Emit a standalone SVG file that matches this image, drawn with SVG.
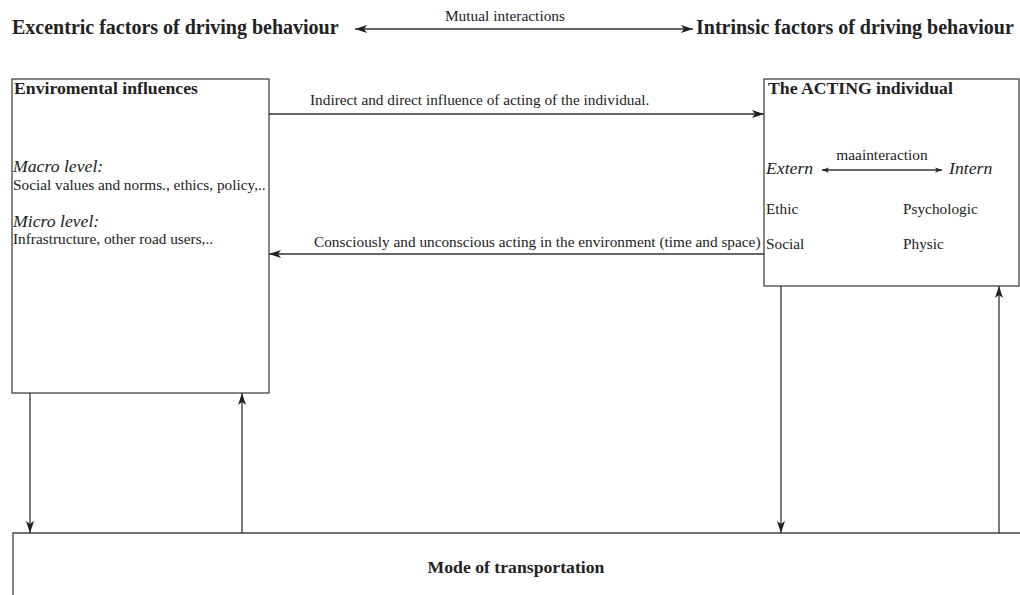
<svg xmlns="http://www.w3.org/2000/svg" width="1020" height="595" viewBox="0 0 1020 595">
<defs>
<marker id="ah" viewBox="0 0 12 8" refX="12" refY="4" markerWidth="12" markerHeight="8" markerUnits="userSpaceOnUse" orient="auto-start-reverse">
<path d="M0,0 L12,4 L0,8 L3,4 Z" fill="#222"/>
</marker>
<marker id="ahs" viewBox="0 0 8 6" refX="8" refY="3" markerWidth="7" markerHeight="6" markerUnits="userSpaceOnUse" orient="auto-start-reverse">
<path d="M0,0 L8,3 L0,6 L2,3 Z" fill="#222"/>
</marker>
</defs>
<style>
text{font-family:"Liberation Serif","Times New Roman",serif;fill:#222}
.t{font-size:20px;font-weight:bold}
.h{font-size:17.7px;font-weight:bold}
.s{font-size:15.3px}
.i{font-size:17.7px;font-style:italic}
.m{font-size:15.4px}
.box{fill:#fff;stroke:#444;stroke-width:1.3}
.ln{stroke:#333;stroke-width:1.3;fill:none}
</style>
<rect width="1020" height="595" fill="#fff"/>
<g id="titles">
<text class="t" x="12" y="34">Excentric factors of driving behaviour</text>
<text class="t" x="696" y="34">Intrinsic factors of driving behaviour</text>
<text class="m" x="505" y="21" text-anchor="middle">Mutual interactions</text>
</g>
<g id="env">
<rect class="box" x="12" y="79" width="257" height="314"/>
<text class="h" x="14" y="94">Enviromental influences</text>
<text class="i" x="13" y="172">Macro level:</text>
<text class="s" x="13" y="190">Social values and norms., ethics, policy,..</text>
<text class="i" x="13" y="227">Micro level:</text>
<text class="s" x="13" y="244">Infrastructure, other road users,..</text>
</g>
<g id="individual">
<rect class="box" x="764" y="79" width="255" height="207"/>
<text class="h" x="768" y="94">The ACTING individual</text>
<text class="m" x="882" y="160" text-anchor="middle">maainteraction</text>
<text class="i" x="766" y="174">Extern</text>
<text class="i" x="949" y="174">Intern</text>
<line class="ln" x1="822" y1="170" x2="942" y2="170" marker-start="url(#ahs)" marker-end="url(#ahs)"/>
<text class="s" x="766" y="214">Ethic</text>
<text class="s" x="903" y="214">Psychologic</text>
<text class="s" x="766" y="249">Social</text>
<text class="s" x="903" y="249">Physic</text>
</g>
<g id="transport">
<path class="box" d="M13,600 L13,533 L1025,533"/>
<text class="h" x="516" y="573" text-anchor="middle">Mode of transportation</text>
</g>
<g id="connectors">
<line class="ln" x1="355" y1="29" x2="693" y2="29" marker-start="url(#ah)" marker-end="url(#ah)"/>
<line class="ln" x1="269" y1="114" x2="764" y2="114" marker-end="url(#ah)"/>
<text class="s" x="310" y="105">Indirect and direct influence of acting of the individual.</text>
<line class="ln" x1="764" y1="254" x2="269" y2="254" marker-end="url(#ah)"/>
<text class="s" x="314" y="247">Consciously and unconscious acting in the environment (time and space)</text>
<line class="ln" x1="30" y1="393" x2="30" y2="533" marker-end="url(#ah)"/>
<line class="ln" x1="242" y1="533" x2="242" y2="393" marker-end="url(#ah)"/>
<line class="ln" x1="781" y1="286" x2="781" y2="533" marker-end="url(#ah)"/>
<line class="ln" x1="999" y1="533" x2="999" y2="286" marker-end="url(#ah)"/>
</g>
</svg>
